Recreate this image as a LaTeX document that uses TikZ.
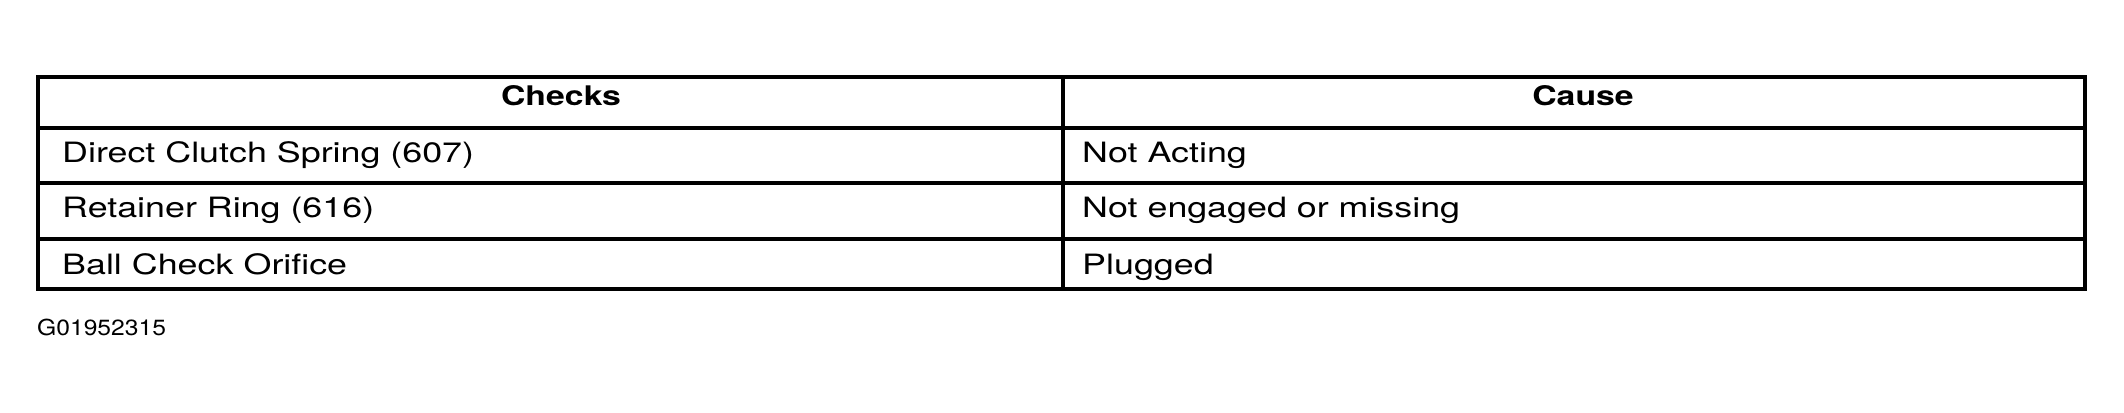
\documentclass[tikz,border=0pt]{standalone}
\usepackage{fontspec}
\setmainfont{TeX Gyre Heros}
\newfontfamily\bodyfont[FakeStretch=1.28]{TeX Gyre Heros}
\newfontfamily\headfont[FakeStretch=1.25]{TeX Gyre Heros}
\newfontfamily\tagfont[FakeStretch=1.12]{TeX Gyre Heros}
\begin{document}
\begin{tikzpicture}[x=1pt,y=-1pt,
  rule/.style={line width=3.5pt},
  frame/.style={line width=4pt},
  cell/.style={anchor=base west,inner sep=0pt,font=\bodyfont\fontsize{28}{32}\selectfont},
  head/.style={anchor=base,inner sep=0pt,font=\headfont\bfseries\fontsize{27}{30}\selectfont},
  tag/.style={anchor=base west,inner sep=0pt,font=\tagfont\fontsize{22}{25}\selectfont}]
\useasboundingbox (0,0) rectangle (2124,412);
\coordinate (tl) at (38,77);
\coordinate (br) at (2085,289);
\draw[frame] (tl) rectangle (br);
\coordinate (h1) at (38,128); \coordinate (h2) at (2085,128);
\coordinate (r1) at (38,183); \coordinate (r2) at (2085,183);
\coordinate (s1) at (38,239); \coordinate (s2) at (2085,239);
\coordinate (c1) at (1063,77); \coordinate (c2) at (1063,289);
\draw[rule] (h1) -- (h2);
\draw[rule] (r1) -- (r2);
\draw[rule] (s1) -- (s2);
\draw[rule] (c1) -- (c2);
\node[head] (hc) at (561,105) {Checks};
\node[head] (hs) at (1583,105) {Cause};
\node[cell] (a1) at (62,162) {Direct Clutch Spring (607)};
\node[cell] (a2) at (62,217) {Retainer Ring (616)};
\node[cell] (a3) at (62,274) {Ball Check Orifice};
\node[cell] (b1) at (1082,162) {Not Acting};
\node[cell] (b2) at (1082,217) {Not engaged or missing};
\node[cell] (b3) at (1082,274) {Plugged};
\node[tag] (g) at (37,335) {G01952315};
\end{tikzpicture}
\end{document}
